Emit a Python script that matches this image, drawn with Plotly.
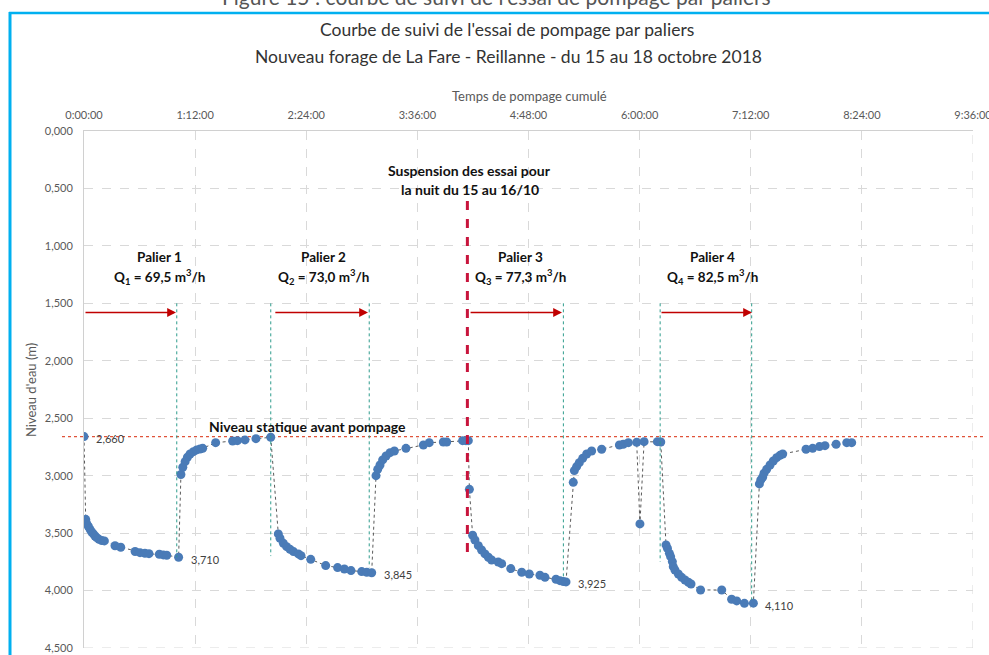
import numpy as np
import plotly.graph_objects as go

# ---------------- data ----------------
# cumulated pumping time, in minutes
time_min = [
    0.0, 1.1, 1.7, 2.8, 3.9, 5.0, 6.1, 7.1, 8.2, 9.7, 11.5, 13.2, 20.1, 23.8,
    33.1, 36.3, 39.5, 42.1, 48.8, 51.4, 53.6, 61.3,
    62.8, 64.0, 65.5, 67.0, 68.7, 70.9, 73.0, 75.2, 76.9, 85.3, 96.3, 99.4,
    104.3, 111.4, 121.0,
    125.9, 127.0, 129.2, 131.3, 133.5, 135.7, 138.9, 140.6, 146.9, 156.6,
    164.3, 168.7, 173.0, 179.9, 183.2, 186.4,
    189.2, 190.3, 191.8, 193.5, 195.7, 198.3, 201.1, 208.6, 219.9, 223.7,
    232.8, 235.0, 245.3, 247.5, 249.0,
    249.7, 251.8, 253.3, 255.5, 257.6, 259.8, 262.0, 264.1, 268.4, 270.6,
    276.5, 283.6, 288.5, 295.4, 298.7, 305.8, 308.4, 310.6, 312.3,
    317.0, 317.7, 319.2, 320.9, 323.1, 325.7, 328.9, 335.4, 346.9, 349.4,
    352.7, 358.1, 360.2, 362.9, 371.5, 373.7,
    377.1, 378.0, 379.3, 380.1, 381.2, 381.8, 382.9, 385.1, 387.2, 389.4,
    391.6, 393.3, 399.5, 413.2, 419.6, 422.9, 427.9, 433.7,
    437.6, 438.5, 439.7, 440.6, 442.3, 444.5, 446.6, 448.8, 451.0, 452.7,
    467.8, 472.1, 476.5, 480.1, 487.3, 494.2, 497.4,
]
# water level (m)
level_m = [
    2.660, 3.380, 3.415, 3.440, 3.467, 3.490, 3.507, 3.525, 3.539, 3.554,
    3.565, 3.568, 3.610, 3.623, 3.660, 3.670, 3.676, 3.679, 3.684, 3.690,
    3.693, 3.710,
    2.990, 2.927, 2.878, 2.840, 2.811, 2.791, 2.776, 2.768, 2.762, 2.713,
    2.698, 2.695, 2.689, 2.678, 2.666,
    3.507, 3.545, 3.589, 3.618, 3.641, 3.661, 3.681, 3.696, 3.728, 3.783,
    3.800, 3.812, 3.826, 3.835, 3.841, 3.845,
    3.000, 2.945, 2.907, 2.863, 2.829, 2.800, 2.785, 2.762, 2.733, 2.713,
    2.707, 2.707, 2.695, 2.695, 2.695,
    3.119, 3.519, 3.560, 3.609, 3.647, 3.681, 3.710, 3.734, 3.751, 3.766,
    3.809, 3.841, 3.856, 3.867, 3.885, 3.902, 3.914, 3.922, 3.925,
    3.058, 2.956, 2.921, 2.887, 2.849, 2.811, 2.785, 2.770, 2.733, 2.727,
    2.713, 2.710, 3.420, 2.704, 2.704, 2.707,
    3.603, 3.632, 3.676, 3.705, 3.748, 3.792, 3.821, 3.856, 3.885, 3.908,
    3.928, 3.943, 3.995, 3.995, 4.076, 4.090, 4.111, 4.110,
    3.072, 3.037, 3.014, 2.979, 2.945, 2.907, 2.872, 2.843, 2.823, 2.811,
    2.770, 2.762, 2.747, 2.739, 2.727, 2.713, 2.713,
]

labelled_levels = [2.660, 3.710, 3.845, 3.925, 4.110]

x_tick_vals = [0, 72, 144, 216, 288, 360, 432, 504, 576]
x_tick_text = ["0:00:00", "1:12:00", "2:24:00", "3:36:00", "4:48:00",
               "6:00:00", "7:12:00", "8:24:00", "9:36:00"]
y_tick_vals = [0.0, 0.5, 1.0, 1.5, 2.0, 2.5, 3.0, 3.5, 4.0, 4.5]

static_level = 2.660
palier_names = ["Palier 1", "Palier 2", "Palier 3", "Palier 4"]
palier_flows = ["69,5", "73,0", "77,3", "82,5"]

# ---------------- figure ----------------
FONT = "Lato, 'Open Sans', sans-serif"
L, R, T, B = 84, 16, 131, 7
W, H = 989, 655
PW, PH = W - L - R, H - T - B


def px(x):
    return (x - L) / PW


def py(y):
    return (H - B - y) / PH


fig = go.Figure()
fig.add_trace(go.Scatter(
    x=time_min, y=level_m, mode="lines+markers",
    line=dict(color="#5a5a5a", width=1, dash="3px,3px"),
    marker=dict(color="#4a7bb7", size=9),
    hoverinfo="x+y", showlegend=False,
))

shapes = []
annotations = []

# edge grid lines (right and bottom of plot area)
shapes.append(dict(type="line", xref="x", yref="paper", x0=576, x1=576, y0=0, y1=1,
                   line=dict(color="#d9d9d9", width=1, dash="dash"), layer="below"))
shapes.append(dict(type="line", xref="paper", yref="y", x0=0, x1=1, y0=4.5, y1=4.5,
                   line=dict(color="#d9d9d9", width=1, dash="dash"), layer="below"))

# static level line (red dotted)
shapes.append(dict(type="line", xref="paper", yref="y", x0=px(62), x1=px(986),
                   y0=static_level, y1=static_level,
                   line=dict(color="#e0533a", width=1.3, dash="dot"), layer="below"))

# teal dotted limits of the steps
for xm, yb in [(60.1, 3.71), (121.0, 3.70), (184.8, 3.80), (310.6, 3.88),
               (373.3, 3.75), (432.6, 4.08)]:
    shapes.append(dict(type="line", xref="x", yref="y", x0=xm, x1=xm, y0=1.5, y1=yb,
                       line=dict(color="#2e9c8c", width=1, dash="dot")))

# night suspension line
shapes.append(dict(type="line", xref="x", yref="y", x0=248.4, x1=248.4, y0=0.61, y1=3.71,
                   line=dict(color="#c8143c", width=3, dash="dash")))

# blue frame
shapes.append(dict(type="line", xref="paper", yref="paper", x0=px(10), x1=px(10),
                   y0=py(12), y1=py(700), line=dict(color="#00b0f0", width=3)))
shapes.append(dict(type="line", xref="paper", yref="paper", x0=px(9), x1=px(1000),
                   y0=py(13), y1=py(13), line=dict(color="#00b0f0", width=2.5)))

# red arrows
for xa, xb in [(0, 59.6), (123.0, 184.0), (249.5, 309.7), (373.2, 432.8)]:
    annotations.append(dict(x=xb, y=1.58, ax=xa, ay=1.58, xref="x", yref="y",
                            axref="x", ayref="y", text="", showarrow=True,
                            arrowhead=2, arrowsize=1.1, arrowwidth=1.6,
                            arrowcolor="#c00000"))

# step captions
for i, (xc, name, q) in enumerate(zip([49.2, 155.2, 282.5, 407.4], palier_names, palier_flows)):
    annotations.append(dict(x=xc, y=1.10, xref="x", yref="y", text="<b>%s</b>" % name,
                            xanchor="center", yanchor="middle",
                            showarrow=False, font=dict(family=FONT, size=13.5, color="#111")))
    annotations.append(dict(x=xc, y=1.27, xref="x", yref="y",
                            text="<b>Q<sub>%d</sub> = %s m<sup>3</sup>/h</b>" % (i + 1, q),
                            xanchor="center", yanchor="middle",
                            showarrow=False, font=dict(family=FONT, size=13.5, color="#111")))

annotations.append(dict(x=250, y=0.34, xref="x", yref="y", text="<b>Suspension des essai pour</b>",
                        xanchor="center", yanchor="middle",
                        showarrow=False, font=dict(family=FONT, size=14, color="#111")))
annotations.append(dict(x=250, y=0.505, xref="x", yref="y", text="<b>la nuit du 15 au 16/10</b>",
                        xanchor="center", yanchor="middle",
                        showarrow=False, font=dict(family=FONT, size=14, color="#111")))
annotations.append(dict(x=144.8, y=2.576, xref="x", yref="y", text="<b>Niveau statique avant pompage</b>",
                        xanchor="center", yanchor="middle",
                        showarrow=False, font=dict(family=FONT, size=14, color="#111")))

# data labels
t_arr = np.array(time_min)
l_arr = np.array(level_m)
for v in labelled_levels:
    idx = int(np.where(np.isclose(l_arr, v))[0][0])
    annotations.append(dict(x=t_arr[idx], y=l_arr[idx], xref="x", yref="y",
                            text=("%.3f" % l_arr[idx]).replace(".", ","),
                            showarrow=False, xanchor="left", yanchor="middle",
                            xshift=10, yshift=-2,
                            font=dict(family=FONT, size=11, color="#404040")))


# titles
def paper_text(xp, yp, text, size, color, angle=0):
    annotations.append(dict(x=px(xp), y=py(yp), xref="paper", yref="paper",
                            xanchor="center", yanchor="middle", text=text,
                            textangle=angle, showarrow=False,
                            font=dict(family=FONT, size=size, color=color)))


paper_text(507, 30, "Courbe de suivi de l'essai de pompage par paliers", 17.5, "#333333")
paper_text(508, 57, "Nouveau forage de La Fare - Reillanne - du 15 au 18 octobre 2018", 17.5, "#333333")
paper_text(496, -4, "Figure 15 : courbe de suivi de l'essai de pompage par paliers", 21, "#555555")
paper_text(529, 96, "Temps de pompage cumulé", 13, "#595959")
paper_text(31, 390, "Niveau d'eau (m)", 13, "#595959", angle=-90)

fig.update_layout(
    width=W, height=H,
    margin=dict(l=L, r=R, t=T, b=B, autoexpand=False),
    paper_bgcolor="white", plot_bgcolor="white",
    separators=", ",
    font=dict(family=FONT, size=11, color="#595959"),
    shapes=shapes, annotations=annotations,
    xaxis=dict(side="top", range=[0, 576], tickvals=x_tick_vals, ticktext=x_tick_text,
               showgrid=True, gridcolor="#d9d9d9", griddash="dash", gridwidth=1,
               showline=True, linecolor="#d0d0d0", linewidth=1, ticks="",
               ticklabeloverflow="allow", ticklabelstandoff=7, automargin=False,
               zeroline=False, tickfont=dict(size=11, color="#595959")),
    yaxis=dict(range=[4.5, 0], tickvals=y_tick_vals, tickformat=".3f",
               showgrid=True, gridcolor="#d9d9d9", griddash="dash", gridwidth=1,
               showline=True, linecolor="#d0d0d0", linewidth=1, ticks="",
               automargin=False,
               zeroline=False, ticklabelstandoff=8, tickfont=dict(size=11, color="#595959")),
)

fig.write_html("out.html", config={"displayModeBar": False},
               post_script="document.body.style.margin='0';")
